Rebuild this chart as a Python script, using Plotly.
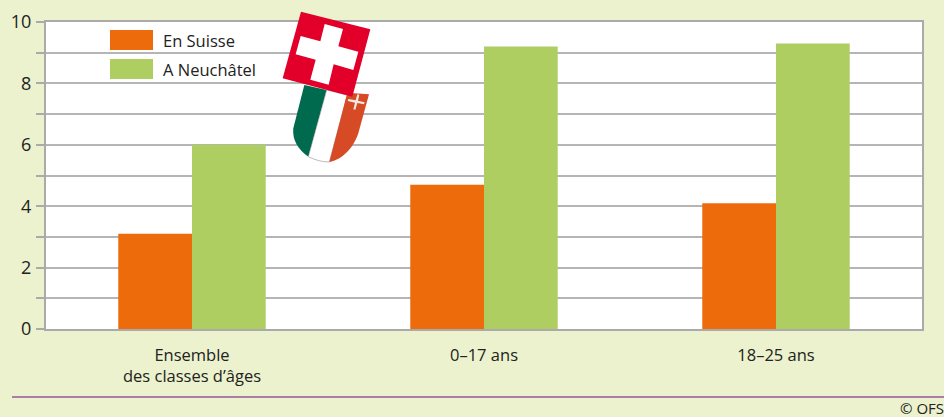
import plotly.graph_objects as go

categories = ["Ensemble<br>des classes d’âges", "0–17 ans", "18–25 ans"]
en_suisse = [3.1, 4.7, 4.1]
a_neuchatel = [6.0, 9.2, 9.3]
series_names = ["En Suisse", "A Neuchâtel"]
y_ticks = list(range(0, 11))
y_labels = ["0", "", "2", "", "4", "", "6", "", "8", "", "10"]

W, H = 944, 417
L, R, T, B = 46, 22, 22, 88
FONT = "Open Sans"
TXT = "#222222"
ORANGE, GREEN = "#ee6b0c", "#afce62"
TEXT_SIZE = 16.5


def px(x, y):
    return (x - L) / (W - L - R), 1 - (y - T) / (H - T - B)


def zoomed(points):
    """Flag outline given in 3x crop coordinates; letters are SVG commands."""
    out = []
    for p in points:
        if isinstance(p, str):
            out.append(p)
        else:
            a, b = px(270 + p[0] / 3, p[1] / 3)
            out.append(f"{a:.5f},{b:.5f}")
    return " ".join(out)


def deco(points, fill, line=None, width=0):
    return dict(type="path", xref="paper", yref="paper", layer="above",
                path=zoomed(points), fillcolor=fill,
                line=dict(color=line or fill, width=width))


def box(x0, y0, x1, y1, fill):
    a0, b0 = px(x0, y0)
    a1, b1 = px(x1, y1)
    return dict(type="rect", xref="paper", yref="paper", layer="above",
                x0=a0, y0=b0, x1=a1, y1=b1, fillcolor=fill, line=dict(width=0))


def note(text, x, y, anchor="left", size=TEXT_SIZE):
    a, b = px(x, y)
    return dict(text=text, xref="paper", yref="paper", x=a, y=b, showarrow=False,
                xanchor=anchor, yanchor="middle",
                borderpad=0, borderwidth=0,
                font=dict(family=FONT, size=size, color=TXT))


shapes = [
    box(110, 30, 153, 50, ORANGE),
    box(110, 59, 153, 79, GREEN),
    box(12, 396, 944, 398, "#a97fa6"),
    # Neuchâtel shield
    deco(["M", (103, 255), "L", (170, 270), "L", (115, 470), "C", (85, 450), (66, 420), (70, 385), "Z"], "#006a4e"),
    deco(["M", (170, 270), "L", (232, 285), "L", (178, 486), "C", (155, 486), (135, 480), (115, 470), "Z"], "#ffffff", "#777777", 0.5),
    deco(["M", (232, 278), "L", (297, 283), "L", (265, 400), "C", (250, 445), (215, 480), (178, 486), "Z"], "#d64a26"),
    deco(["M", (262, 283), "L", (268, 284), "L", (264, 302), "L", (284, 307), "L", (282, 313), "L", (262, 309),
          "L", (256, 329), "L", (250, 328), "L", (255, 308), "L", (233, 303), "L", (235, 297), "L", (257, 301), "Z"], "#f4e8e0"),
    # Swiss flag
    deco(["M", (93, 35), "L", (301, 88), "L", (247, 290), "L", (38, 235), "Z"], "#e2002b"),
    deco(["M", (164, 72), "L", (219, 87), "L", (205, 139), "L", (265, 155), "L", (250, 210), "L", (191, 193),
          "L", (176, 254), "L", (121, 239), "L", (137, 179), "L", (77, 163), "L", (92, 108), "L", (151, 124), "Z"], "#ffffff"),
]

annotations = [
    note(series_names[0], 163, 40),
    note(series_names[1], 163, 69),
    note("© OFS", 944, 408, "right", 15),
]

fig = go.Figure()
fig.add_bar(x=categories, y=en_suisse, name=series_names[0], marker=dict(color=ORANGE, line_width=0))
fig.add_bar(x=categories, y=a_neuchatel, name=series_names[1], marker=dict(color=GREEN, line_width=0))

fig.update_layout(
    width=W, height=H, autosize=False,
    margin=dict(l=L, r=R, t=T, b=B, pad=0),
    paper_bgcolor="#ebf2cd", plot_bgcolor="#ffffff",
    barmode="group", bargap=0.495, bargroupgap=0,
    showlegend=False, shapes=shapes, annotations=annotations,
    font=dict(family=FONT, size=TEXT_SIZE, color=TXT),
    xaxis=dict(automargin=False, ticks="", showgrid=False, showline=True, linecolor="#aaaaaa", linewidth=2,
               mirror=True, tickfont=dict(size=TEXT_SIZE), ticklabelstandoff=10, fixedrange=True),
    yaxis=dict(automargin=False, range=[0, 10], tickvals=y_ticks, ticktext=y_labels, ticks="outside", ticklen=8,
               tickwidth=2, tickcolor="#aaaaaa", showgrid=True, gridcolor="#b5b5b5", gridwidth=2,
               showline=True, linecolor="#aaaaaa", linewidth=2, mirror=True, zeroline=False,
               tickfont=dict(size=18), ticklabelstandoff=1, fixedrange=True),
)
fig.write_html("out.html", config=dict(displayModeBar=False),
               post_script="document.body.style.margin='0';document.body.style.overflow='hidden';")
